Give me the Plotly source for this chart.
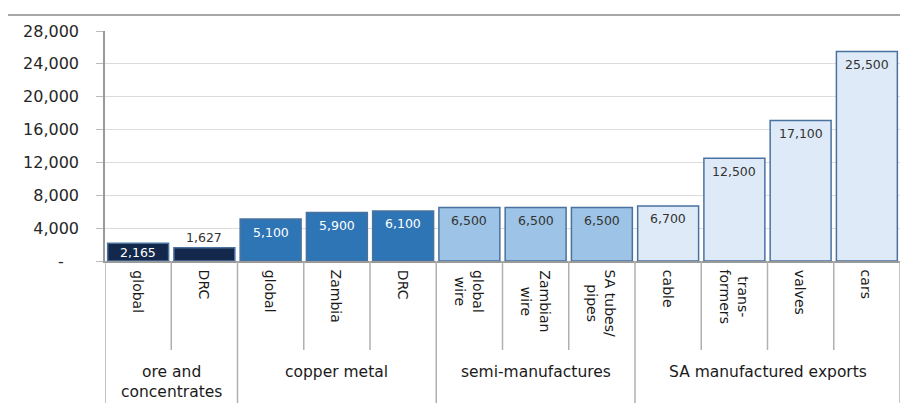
import plotly.graph_objects as go

# ---- data ----
categories = ["global", "DRC", "global", "Zambia", "DRC", "global<br>wire", "Zambian<br>wire",
              "SA tubes/<br>pipes", "cable", "trans-<br>formers", "valves", "cars"]
values = [2165, 1627, 5100, 5900, 6100, 6500, 6500, 6500, 6700, 12500, 17100, 25500]
value_labels = ["2,165", "1,627", "5,100", "5,900", "6,100", "6,500", "6,500", "6,500",
                "6,700", "12,500", "17,100", "25,500"]
groups = ["ore and<br>concentrates", "copper metal", "semi-manufactures", "SA manufactured exports"]
group_sizes = [2, 3, 3, 4]
group_colors = ["#13284a", "#2e75b6", "#9dc3e6", "#deeaf7"]
group_text_colors = ["#ffffff", "#ffffff", "#333333", "#333333"]
y_tickvals = [0, 4000, 8000, 12000, 16000, 20000, 24000, 28000]
y_ticktext = ["-\u00a0\u00a0\u00a0", "4,000", "8,000", "12,000", "16,000", "20,000", "24,000", "28,000"]

# ---- build ----
xs = list(range(len(categories)))
bar_colors, text_colors, group_centers, bounds = [], [], [], [-0.5]
i = 0
for g, n in enumerate(group_sizes):
    bar_colors += [group_colors[g]] * n
    text_colors += [group_text_colors[g]] * n
    group_centers.append(i + (n - 1) / 2)
    i += n
    bounds.append(i - 0.5)

FONT = "DejaVu Sans"
fig = go.Figure(go.Bar(
    x=xs, y=values,
    marker=dict(color=bar_colors, line=dict(color="#4a72a0", width=1.5)),
    hoverinfo="skip",
))

annotations = []
for x, v, t, c in zip(xs, values, value_labels, text_colors):
    if v < 2000:
        annotations.append(dict(x=x, y=v, xref="x", yref="y", text=t, showarrow=False,
                                yanchor="bottom", yshift=1,
                                font=dict(family=FONT, size=12.5, color="#333333")))
    else:
        annotations.append(dict(x=x, y=v, xref="x", yref="y", text=t, showarrow=False,
                                yanchor="middle", yshift=-13 if v > 3000 else -9,
                                font=dict(family=FONT, size=12.5, color=c)))

H = 230.0  # plot height in px
for x, c in zip(xs, categories):
    annotations.append(dict(x=x, y=-7 / H, xref="x", yref="paper", text=c, showarrow=False,
                            textangle=90, xanchor="center", yanchor="top", align="center",
                            font=dict(family=FONT, size=14, color="#1a1a1a")))
for gx, gname in zip(group_centers, groups):
    annotations.append(dict(x=gx, y=-100 / H, xref="x", yref="paper", text=gname, showarrow=False,
                            xanchor="center", yanchor="top", align="center",
                            font=dict(family=FONT, size=15.5, color="#1a1a1a")))

shapes = [dict(type="line", xref="paper", yref="paper", x0=-97 / 795, x1=1.0,
               y0=(261 - 15) / H, y1=(261 - 15) / H, line=dict(color="#8a8a8a", width=1.5))]
for k in range(len(categories) + 1):
    bx = k - 0.5
    if bx in bounds:
        y1 = -150 / H
    else:
        y1 = -89 / H
    shapes.append(dict(type="line", xref="x", yref="paper", x0=bx, x1=bx, y0=0, y1=y1,
                       line=dict(color="#b0b0b0", width=1.5)))

fig.update_layout(
    width=901, height=403,
    margin=dict(l=105, r=1, t=31, b=142),
    plot_bgcolor="white", paper_bgcolor="white",
    bargap=0.08, showlegend=False,
    annotations=annotations, shapes=shapes,
    xaxis=dict(range=[-0.5, 11.5], showticklabels=False, ticks="", showgrid=False,
               zeroline=False, showline=True, linecolor="#9a9a9a", linewidth=1.5, fixedrange=True),
    yaxis=dict(range=[0, 28000], tickvals=y_tickvals, ticktext=y_ticktext,
               showgrid=True, gridcolor="#dcdcdc", gridwidth=1.2, zeroline=False,
               showline=True, linecolor="#9a9a9a", linewidth=1.5,
               ticks="outside", ticklen=7, tickcolor="#bbbbbb", ticklabelstandoff=14,
               tickfont=dict(family=FONT, size=16, color="#262626"), fixedrange=True),
)

fig.write_html("out.html")
